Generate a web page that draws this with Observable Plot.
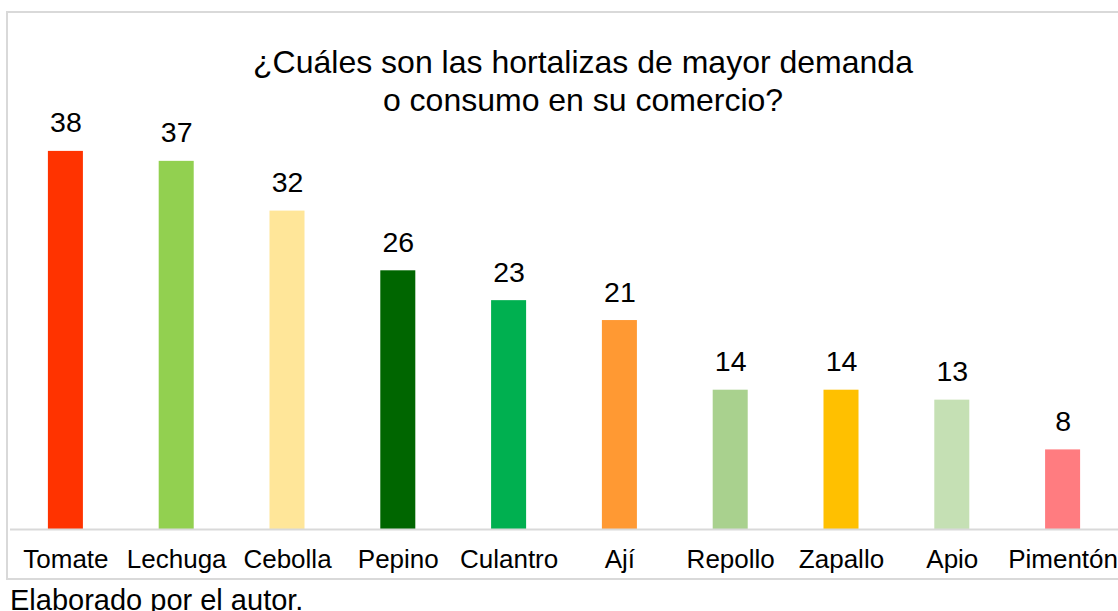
<!DOCTYPE html>
<html>
<head>
<meta charset="utf-8">
<script src="https://cdn.jsdelivr.net/npm/d3@7"></script>
<script src="https://cdn.jsdelivr.net/npm/@observablehq/plot@0.6"></script>
<style>
  body { margin: 0; background: #fff; font-family: "Liberation Sans", Arial, sans-serif; }
  #wrap { position: relative; width: 1118px; height: 611px; overflow: hidden; }
  #frame { position: absolute; left: 6px; top: 11px; width: 1200px; height: 569px; border: 2px solid #d9d9d9; box-sizing: border-box; }
  #chart { position: absolute; left: 0; top: 0; }
  #title { position: absolute; left: 0; width: 1166px; top: 43px; text-align: center; font-size: 32px; line-height: 38px; color: #000; }
  #caption { position: absolute; left: 10px; top: 586px; font-size: 29px; line-height: 29px; color: #000; white-space: nowrap; }
</style>
</head>
<body>
<div id="wrap">
  <div id="frame"></div>
  <div id="chart"></div>
  <div id="title">¿Cuáles son las hortalizas de mayor demanda<br>o consumo en su comercio?</div>
  <div id="caption">Elaborado por el autor.</div>
</div>
<script>
const categories = ["Tomate", "Lechuga", "Cebolla", "Pepino", "Culantro", "Ají", "Repollo", "Zapallo", "Apio", "Pimentón"];
const values = [38, 37, 32, 26, 23, 21, 14, 14, 13, 8];
const colors = ["#FF3300", "#92D050", "#FFE699", "#006600", "#00B050", "#FF9933", "#A9D18E", "#FFC000", "#C5E0B4", "#FF7C80"];

const data = categories.map((c, i) => ({cat: c, value: values[i], color: colors[i]}));

const chart = Plot.plot({
  width: 1118,
  height: 582,
  marginLeft: 10,
  marginRight: 0,
  marginTop: 131,
  marginBottom: 53,
  style: {fontFamily: "'Liberation Sans', Arial, sans-serif", background: "transparent", color: "#000"},
  x: {domain: categories, paddingInner: 0.684, paddingOuter: 0.342, round: false, axis: null},
  y: {domain: [0, 40], axis: null},
  color: {type: "identity"},
  marks: [
    Plot.barY(data, {x: "cat", y: "value", fill: "color"}),
    Plot.ruleY([0], {stroke: "#d9d9d9", strokeWidth: 2}),
    Plot.text(data, {x: "cat", y: "value", text: d => String(d.value), dy: -19, lineAnchor: "bottom", fontSize: 28.5, fill: "#000"}),
    Plot.axisX({tickSize: 0, tickPadding: 20, fontSize: 26, fill: "#000", label: null})
  ]
});
document.getElementById("chart").appendChild(chart);
</script>
</body>
</html>
